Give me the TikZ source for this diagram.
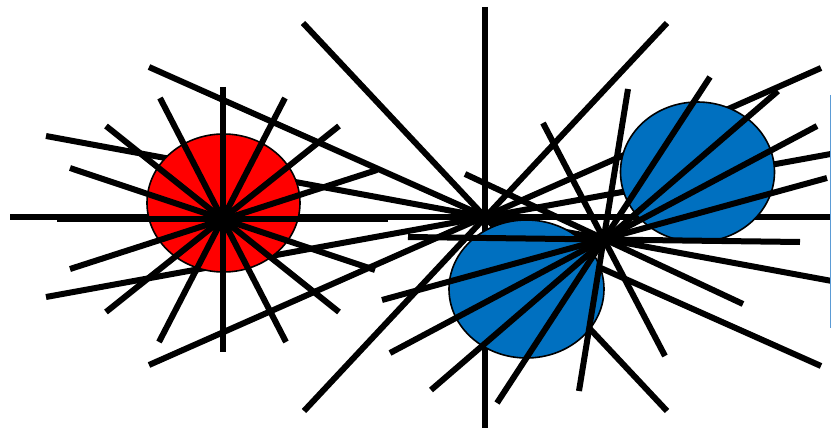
\documentclass[tikz,border=0pt]{standalone}
\usetikzlibrary{shapes.geometric}
\definecolor{discred}{HTML}{FF0000}
\definecolor{discblue}{HTML}{0070C0}
\definecolor{edgeblue}{HTML}{5B9BD5}
\begin{document}
\begin{tikzpicture}[x=1pt,y=-1pt,
  ray/.style={line width=6pt,black},
  disc/.style={draw=black,line width=1.6pt,ellipse,inner sep=0pt}]
\useasboundingbox (0,0) rectangle (831,428);
\clip (0,0) rectangle (831,428);
% star 2 (behind the discs)
\draw[ray] (485.3,7) -- (485.3,428);
\draw[ray] (10,217) -- (831,217);
\draw[ray] (149,67) -- (821,366);
\draw[ray] (149,365) -- (821,68);
\draw[ray] (303,23) -- (667,411);
\draw[ray] (304,411) -- (667,23);
\draw[ray] (46,136) -- (924,298);
\draw[ray] (46,297) -- (924,137);
% discs
\node[disc,fill=discred,minimum width=153pt,minimum height=138pt] (red) at (223.5,203) {};
\node[disc,fill=discblue,minimum width=155pt,minimum height=138pt] (blueA) at (526.5,289) {};
\node[disc,fill=discblue,minimum width=154pt,minimum height=140pt] (blueB) at (697.5,172) {};
% red star
\draw[ray] (223,87) -- (223,352);
\draw[ray] (57,219) -- (388,219);
\draw[ray] (160,98) -- (286,342);
\draw[ray] (285,98) -- (159,342);
\draw[ray] (106,126) -- (339,312);
\draw[ray] (339,126) -- (106,312);
\draw[ray] (70,168) -- (375,270);
\draw[ray] (70,269) -- (377,170);
% star 3
\draw[ray] (408,237) -- (800,242);
\draw[ray] (497,403) -- (710,77);
\draw[ray] (431,390) -- (778,91);
\draw[ray] (390,353) -- (817,126);
\draw[ray] (382,300) -- (827,178);
\draw[ray] (579,391) -- (628,89);
\draw[ray] (543,123) -- (665,356);
\draw[ray] (465,174) -- (743,304);
% thin edge line at right
\draw[edgeblue,line width=1.2pt] (830.3,95) -- (830.3,328);
\end{tikzpicture}
\end{document}
